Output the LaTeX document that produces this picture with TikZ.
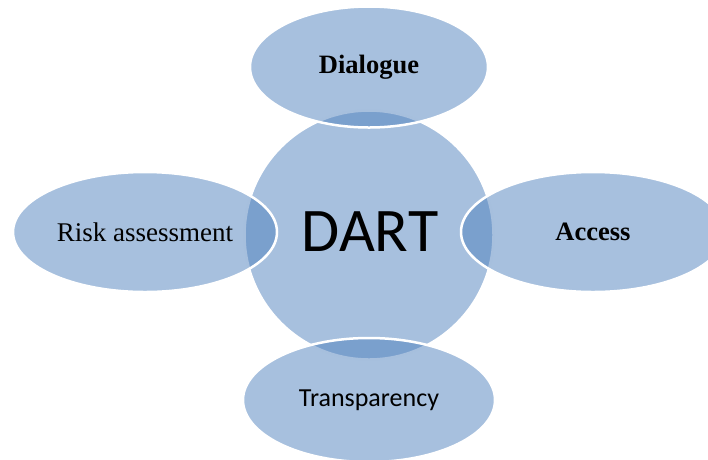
\documentclass[tikz,border=0pt]{standalone}
\usepackage{fontspec}
\setmainfont{Liberation Serif}
\newfontfamily\calibri{Carlito}
\usetikzlibrary{shapes.geometric}
\definecolor{dartblue}{HTML}{4F81BD}
\tikzset{
  blob/.style={draw=white, line width=2.5pt, fill=dartblue, fill opacity=0.5,
    text opacity=1, text=black, inner sep=0pt},
  petal/.style={blob, ellipse},
}
\begin{document}
\begin{tikzpicture}[x=1pt,y=-1pt]
\useasboundingbox (0,0) rectangle (708,459);
\clip (0,0) rectangle (708,459);
\node[blob, circle, minimum size=249pt] (hub) at (369,235) {};
\node[font=\calibri\fontsize{62}{62}\selectfont] (dart) at (370,232) {DART};
\node[petal, minimum width=238pt, minimum height=121pt,
      font=\bfseries\fontsize{26.5}{30}\selectfont] (dia) at (369,67) {Dialogue};
\node[petal, minimum width=264pt, minimum height=120pt,
      font=\fontsize{27}{30}\selectfont] (risk) at (145,232) {Risk assessment};
\node[petal, minimum width=264pt, minimum height=120pt,
      font=\bfseries\fontsize{26.5}{30}\selectfont] (acc) at (593,232) {Access};
\node[petal, minimum width=252pt, minimum height=124pt,
      font=\calibri\fontsize{26}{30}\selectfont] (tra) at (369,400) {Transparency};
\end{tikzpicture}
\end{document}
